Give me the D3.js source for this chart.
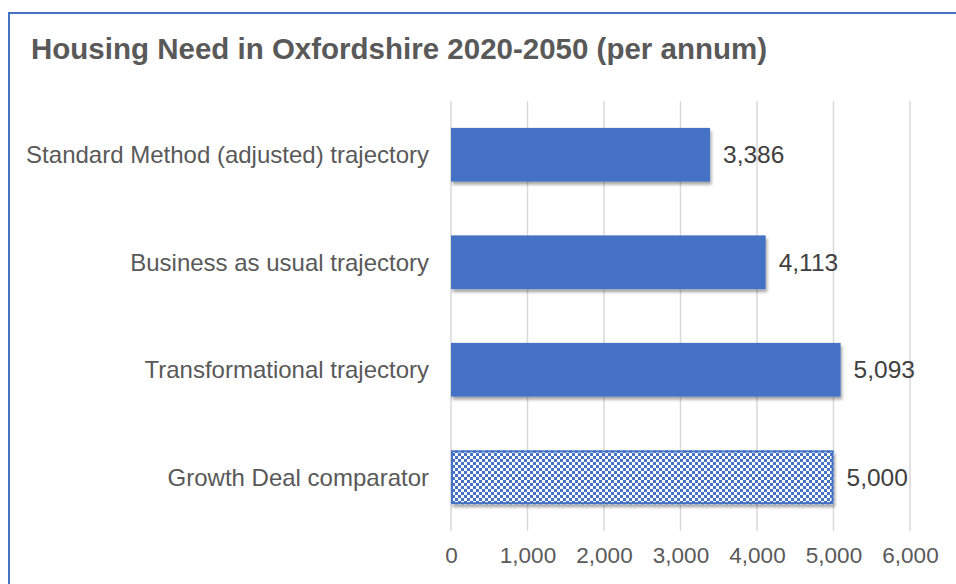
<!DOCTYPE html>
<html><head><meta charset="utf-8">
<script src="https://cdn.jsdelivr.net/npm/d3@7/dist/d3.min.js"></script>
<style>body{margin:0;background:#fff}svg{display:block}</style>
</head><body>
<svg id="c" width="956" height="584"></svg>
<script>
const categories = ["Standard Method (adjusted) trajectory","Business as usual trajectory","Transformational trajectory","Growth Deal comparator"];
const values = [3386, 4113, 5093, 5000];
const patterned = [false, false, false, true];
const ticks = [0,1000,2000,3000,4000,5000,6000];
const title = "Housing Need in Oxfordshire 2020-2050 (per annum)";

const svg = d3.select("#c");
const blue = "#4472C4";
const font = "Liberation Sans, Arial, sans-serif";
const defs = svg.append("defs");
const pat = defs.append("pattern").attr("id","chk").attr("patternUnits","userSpaceOnUse")
  .attr("width",6).attr("height",6).attr("x",452).attr("y",453);
pat.append("rect").attr("width",6).attr("height",6).attr("fill","#fff");
pat.append("rect").attr("width",3).attr("height",3).attr("fill",blue);
pat.append("rect").attr("x",3).attr("y",3).attr("width",3).attr("height",3).attr("fill",blue);
const f = defs.append("filter").attr("id","sh").attr("x","-5%").attr("y","-20%").attr("width","110%").attr("height","150%");
f.append("feDropShadow").attr("dx",1.5).attr("dy",3).attr("stdDeviation",1.8).attr("flood-color","#000").attr("flood-opacity",0.35);

svg.append("rect").attr("x",9).attr("y",13).attr("width",960).attr("height",600)
  .attr("fill","#fff").attr("stroke",blue).attr("stroke-width",2);

svg.append("text").attr("x",31).attr("y",59).text(title)
  .attr("font-family",font).attr("font-weight","bold")
  .attr("font-size",29.5).attr("fill","#595959");

const x = d3.scaleLinear().domain([0,6000]).range([451,910]);
const y = d3.scaleBand().domain(categories).range([101,531]).paddingInner(0.5).paddingOuter(0.25);

const g = svg.append("g");
g.selectAll("line.grid").data(ticks).join("line").attr("class","grid")
  .attr("x1",d=>x(d)).attr("x2",d=>x(d)).attr("y1",101).attr("y2",531)
  .attr("stroke","#d9d9d9").attr("stroke-width",1.5);

const axis = d3.axisBottom(x).tickValues(ticks).tickSize(0).tickPadding(0).tickFormat(d3.format(","));
const ax = svg.append("g").attr("transform","translate(0,555)").call(axis);
ax.select(".domain").remove();
ax.selectAll("text").attr("font-family",font).attr("font-size",22.5)
  .attr("fill","#595959").attr("dy","0.35em");

const yAxis = d3.axisLeft(y).tickSize(0).tickPadding(0);
const ya = svg.append("g").attr("transform","translate(429,0)").call(yAxis);
ya.select(".domain").remove();
ya.selectAll("text").attr("font-family",font).attr("font-size",24)
  .attr("fill","#595959").attr("dy","0.35em");

const data = categories.map((c,i)=>({c, v:values[i], p:patterned[i]}));
g.selectAll("rect.bar").data(data).join("rect").attr("class","bar")
  .attr("x",x(0)).attr("y",d=>y(d.c)).attr("width",d=>x(d.v)-x(0)).attr("height",y.bandwidth())
  .attr("fill",d=>d.p?"url(#chk)":blue).attr("filter","url(#sh)");
g.selectAll("rect.bord").data(data.filter(d=>d.p)).join("rect").attr("class","bord")
  .attr("x",x(0)+1).attr("y",d=>y(d.c)+1).attr("width",d=>x(d.v)-x(0)-2).attr("height",y.bandwidth()-2)
  .attr("fill","none").attr("stroke",blue).attr("stroke-width",2);

g.selectAll("text.val").data(data).join("text").attr("class","val")
  .attr("x",d=>x(d.v)+13).attr("y",d=>y(d.c)+y.bandwidth()/2).attr("dy","0.35em")
  .text(d=>d3.format(",")(d.v))
  .attr("font-family",font).attr("font-size",24.5).attr("fill","#404040");
</script>
</body></html>
